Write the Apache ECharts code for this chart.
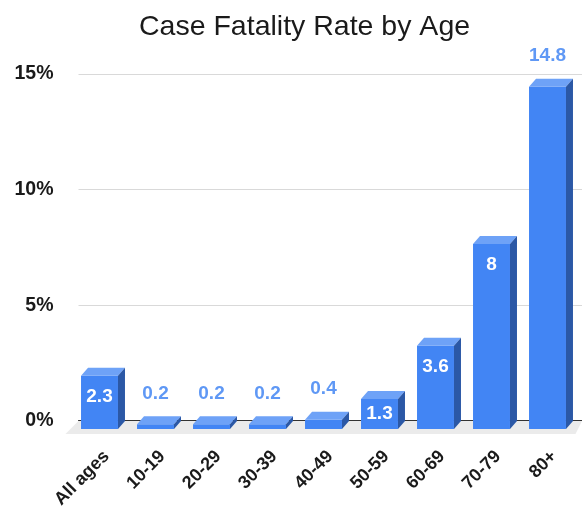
<!DOCTYPE html>
<html>
<head>
<meta charset="utf-8">
<script src="https://cdn.jsdelivr.net/npm/echarts@6/dist/echarts.min.js"></script>
<style>html,body{margin:0;padding:0;background:#fff;}#c{width:582px;height:511px;}</style>
</head>
<body>
<div id="c"></div>
<script>
const categories = ["All ages","10-19","20-29","30-39","40-49","50-59","60-69","70-79","80+"];
const fatalityRates = [2.3,0.2,0.2,0.2,0.4,1.3,3.6,8,14.8];
const yTicks = [0,5,10,15];

const FRONT = '#4285F4', TOP = '#6ea2f7', SIDE = '#2b58a6', OUT_LABEL = '#5f98f5';
const DX = 7, DY = -8;
const FONT = 'Liberation Sans, Arial, sans-serif';
const maxVal = Math.max.apply(null, fatalityRates);

const chart = echarts.init(document.getElementById('c'), null, {renderer:'canvas'});

function renderItem(params, api){
  const x = api.value(0), v = api.value(1);
  const p0 = api.coord([x, 0]);
  const p1 = api.coord([x, v]);
  const bw = api.size([1, 0])[0] * 0.66;
  const l = p0[0] - bw/2, r = p0[0] + bw/2, t = p1[1], b = p0[1];
  const h = b - t;
  const children = [
    {type:'rect', shape:{x:l, y:t, width:bw, height:h}, style:{fill:FRONT}},
    {type:'polygon', shape:{points:[[l,t],[r,t],[r+DX,t+DY],[l+DX,t+DY]]}, style:{fill:TOP}},
    {type:'polygon', shape:{points:[[r,t],[r+DX,t+DY],[r+DX,b+DY],[r,b]]}, style:{fill:SIDE}}
  ];
  const outside = h < 20 || v === maxVal;
  let ly, col;
  if (outside) { ly = t - 31; col = OUT_LABEL; }
  else { ly = Math.min(t + 21, (t + b)/2); col = '#ffffff'; }
  children.push({type:'text', style:{text:String(v), x:p0[0], y:ly, align:'center', verticalAlign:'middle',
    fill:col, font:'bold 19px ' + FONT}});
  return {type:'group', children:children};
}

const option = {
  animation:false,
  backgroundColor:'#ffffff',
  title:{text:'Case Fatality Rate by Age', left:134, top:8,
    textStyle:{fontFamily:FONT, fontSize:28.5, fontWeight:'normal', color:'#1a1a1a'}},
  grid:[
    {left:78.5, right:0, top:74, bottom:90},
    {left:71.5, right:6.5, top:82, bottom:82}
  ],
  xAxis:[
    {gridIndex:0, type:'category', data:categories, axisLine:{show:true, lineStyle:{color:'#333', width:1}},
      axisTick:{show:false}, splitLine:{show:false},
      axisLabel:{show:true, rotate:45, interval:0, margin:33, color:'#1a1a1a',
        fontFamily:FONT, fontSize:18, fontWeight:'bold'}},
    {gridIndex:1, type:'category', data:categories, axisLine:{show:false}, axisTick:{show:false},
      axisLabel:{show:false}}
  ],
  yAxis:[
    {gridIndex:0, type:'value', min:yTicks[0], max:yTicks[yTicks.length-1], interval:5,
      axisLine:{show:false}, axisTick:{show:false},
      splitLine:{show:true, lineStyle:{color:'#d9d9d9', width:1}},
      axisLabel:{formatter:'{value}%', margin:25, color:'#1a1a1a', fontFamily:FONT, fontSize:19.5, fontWeight:'bold'}},
    {gridIndex:1, type:'value', min:yTicks[0], max:yTicks[yTicks.length-1], interval:5, show:false}
  ],
  graphic:[],
  series:[{
    type:'custom', xAxisIndex:1, yAxisIndex:1, z:5,
    renderItem:renderItem,
    data:fatalityRates.map((v,i)=>[i,v])
  }]
};
chart.setOption(option);

// floor drawn from the axis geometry
const bl = chart.convertToPixel({xAxisIndex:1, yAxisIndex:1}, [0, 0]);
const br = chart.convertToPixel({xAxisIndex:1, yAxisIndex:1}, [categories.length-1, 0]);
const half = (br[0]-bl[0])/(categories.length-1)/2;
const frontL = bl[0] - half - 6, frontR = bl[0] + (br[0]-bl[0]) + half;
const fy = bl[1] + 5, by = bl[1] + DY;
chart.setOption({graphic:[{type:'polygon', z:0, silent:true,
  shape:{points:[[frontL+13, by],[582, by],[frontR, fy],[frontL, fy]]},
  style:{fill:'#ebebeb'}}]});
</script>
</body>
</html>
